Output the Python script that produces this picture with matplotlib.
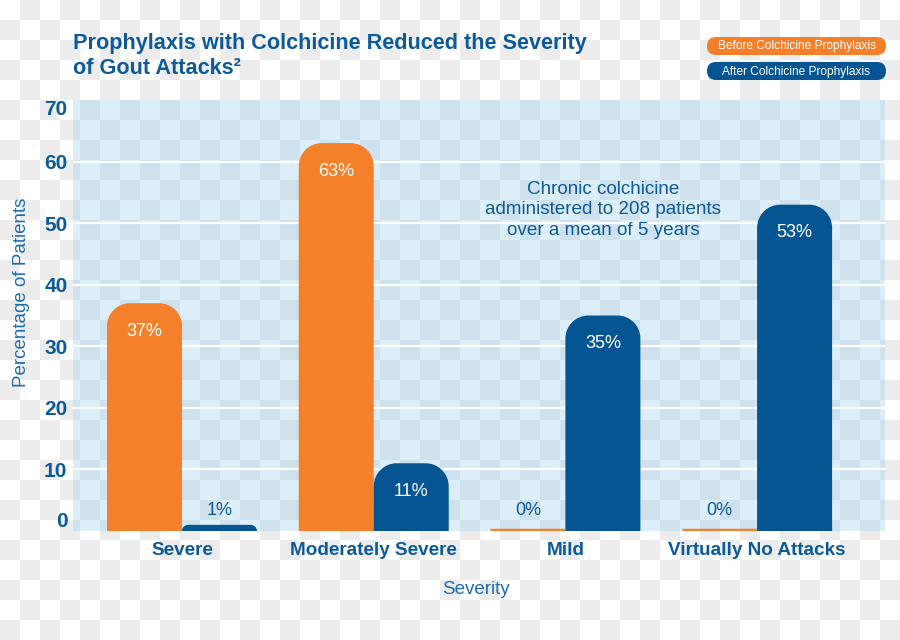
import numpy as np
import matplotlib
matplotlib.use("Agg")
import matplotlib.pyplot as plt
from matplotlib.path import Path
from matplotlib.patches import PathPatch, FancyBboxPatch

plt.rcParams['font.family'] = ['Liberation Sans', 'DejaVu Sans']

# ---- data ----
categories = ["Severe", "Moderately Severe", "Mild", "Virtually No Attacks"]
before = [37, 63, 0, 0]
after = [1, 11, 35, 53]
series_names = ["Before Colchicine Prophylaxis", "After Colchicine Prophylaxis"]
yticks = [0, 10, 20, 30, 40, 50, 60, 70]
title_lines = ["Prophylaxis with Colchicine Reduced the Severity", "of Gout Attacks\u00b2"]
note = "Chronic colchicine\nadministered to 208 patients\nover a mean of 5 years"

ORANGE = "#f4802b"
BLUE = "#065593"
TXT = "#0d5a9a"
LTXT = "#1f6cb0"

W, H = 900, 640
fig = plt.figure(figsize=(9, 6.4), dpi=100)

# axes geometry (pixels)
L, R, T, B = 73, 885, 100, 531

# ---- background (checkerboard like the reference) ----
bg = fig.add_axes([0, 0, 1, 1], zorder=-5)
bg.set_xlim(0, W)
bg.set_ylim(H, 0)
bg.axis("off")
yy, xx = np.mgrid[0:H, 0:W]
par = ((xx // 20) + (yy // 20)) % 2 == 1
img = np.ones((H, W, 3))
img[par] = np.array([236, 236, 236]) / 255
inside = (xx >= L) & (xx < R) & (yy >= T) & (yy < B)
img[inside & ~par] = np.array([220, 238, 248]) / 255
img[inside & par] = np.array([206, 225, 236]) / 255
bg.imshow(img, extent=(0, W, H, 0), aspect="auto", interpolation="nearest")

# legend pills
for i, (name, col) in enumerate(zip(series_names, [ORANGE, BLUE])):
    y0 = 37 + i * 25
    p = FancyBboxPatch((707, y0), 179, 18,
                       boxstyle="round,pad=0,rounding_size=9",
                       fc=col, ec="none")
    bg.add_patch(p)
    bg.text(707 + 179 / 2, y0 + 9.5, name, color="white", fontsize=8.6,
            ha="center", va="center")

# title (two lines placed on their baselines)
for i, line in enumerate(title_lines):
    bg.text(73, 49 + 25 * i, line, fontsize=15.6, fontweight="bold", color=TXT,
            ha="left", va="baseline")

# ---- main axes ----
ax = fig.add_axes([L / W, 1 - B / H, (R - L) / W, (B - T) / H])
ax.set_facecolor("none")
n = len(categories)
spacing = 191.7
xmin = -(182 - L) / spacing
xmax = xmin + (R - L) / spacing
ax.set_xlim(xmin, xmax)
ax.set_ylim(0, 70)
for s in ax.spines.values():
    s.set_visible(False)

kx = (R - L) / (xmax - xmin)
ky = (B - T) / 70.0
bw = 75 / spacing

for g in yticks[1:-1]:
    ax.axhline(g, color="white", lw=1.6, zorder=0.5)


def rounded_bar(x0, w, h, color):
    hp = h * ky
    r = min(23, hp)
    rx, ry = r / kx, r / ky
    k = 0.5523
    verts = [(x0, 0), (x0, h - ry),
             (x0, h - ry + k * ry), (x0 + rx - k * rx, h), (x0 + rx, h),
             (x0 + w - rx, h),
             (x0 + w - rx + k * rx, h), (x0 + w, h - ry + k * ry), (x0 + w, h - ry),
             (x0 + w, 0), (x0, 0)]
    codes = [Path.MOVETO, Path.LINETO,
             Path.CURVE4, Path.CURVE4, Path.CURVE4,
             Path.LINETO,
             Path.CURVE4, Path.CURVE4, Path.CURVE4,
             Path.LINETO, Path.CLOSEPOLY]
    ax.add_patch(PathPatch(Path(verts, codes), fc=color, ec="none", zorder=2))


x = np.arange(n)
for vals, off, col in [(before, -bw, ORANGE), (after, 0, BLUE)]:
    for xi, v in zip(x, vals):
        x0 = xi + off
        if v > 0:
            rounded_bar(x0, bw, v, col)
        else:
            ax.plot([x0, x0 + bw], [0.15, 0.15], color=col, lw=2.5,
                    solid_capstyle="butt", zorder=2)
        if v >= 5:
            ax.text(x0 + bw / 2, v - 4.6, f"{v}%", color="white", fontsize=13,
                    ha="center", va="center", zorder=3)
        else:
            ax.text(x0 + bw / 2, 3.3, f"{v}%", color=TXT, fontsize=13,
                    ha="center", va="center", zorder=3)

ax.set_yticks(yticks)
ax.set_yticklabels([str(t) for t in yticks], fontsize=15, fontweight="bold", color=TXT)
ylabs = ax.get_yticklabels()
ylabs[0].set_va("bottom")
ylabs[-1].set_va("top")
ax.set_xticks(x)
ax.set_xticklabels(categories, fontsize=13.6, fontweight="bold", color=TXT)
ax.tick_params(axis="both", length=0)
ax.tick_params(axis="y", pad=4)
ax.tick_params(axis="x", pad=8)

ax.text((603 - L) / (R - L), (B - 210) / (B - T), note, transform=ax.transAxes,
        ha="center", va="center", fontsize=13.6, color=TXT, linespacing=1.25)

fig.text(476 / W, 1 - 590 / H, "Severity", fontsize=13.5, color=LTXT,
         ha="center", va="center")
fig.text(22 / W, 1 - 292 / H, "Percentage of Patients", fontsize=13.5, color=LTXT,
         ha="center", va="center", rotation=90)

fig.savefig("out.png", dpi=100)
